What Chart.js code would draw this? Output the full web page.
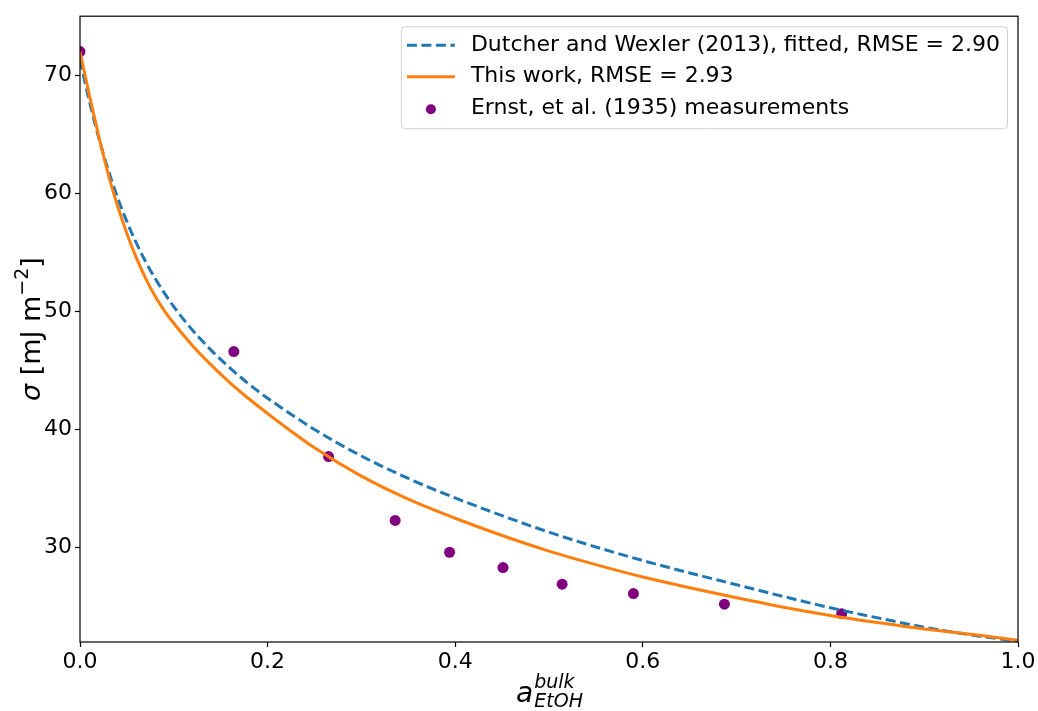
<!DOCTYPE html>
<html>
<head>
<meta charset="utf-8">
<script src="https://cdn.jsdelivr.net/npm/chart.js@4"></script>
<style>
	html, body { margin: 0; padding: 0; background: #fff; }
	#wrap { width: 1038px; height: 711px; position: relative; }
</style>
</head>
<body>
<div id="wrap"><canvas id="chart"></canvas></div>
<script>
// activity grid used for both model curves
const activity = [0, 0.01, 0.02, 0.03, 0.04, 0.05, 0.06, 0.07, 0.08, 0.09, 0.1, 0.12, 0.14, 0.16, 0.18, 0.2, 0.25, 0.3,
	0.35, 0.4, 0.45, 0.5, 0.55, 0.6, 0.65, 0.7, 0.75, 0.8, 0.85, 0.9, 0.95, 1.0];
// Dutcher and Wexler (2013), fitted
const dutcherSigma = [71.3, 67.8, 64.7, 62.0, 59.65, 57.6, 55.8, 54.2, 52.8, 51.55, 50.4, 48.4, 46.7, 45.2, 43.85, 42.65,
	40.0, 37.75, 35.85, 34.2, 32.7, 31.3, 30.05, 28.9, 27.85, 26.85, 25.85, 24.9, 24.05, 23.25, 22.6, 22.05];
// This work
const thisWorkSigma = [72.0, 68.3, 64.85, 61.65, 58.95, 56.6, 54.55, 52.8, 51.3, 50.05, 49.0, 47.1, 45.45, 43.95, 42.6, 41.35,
	38.45, 36.05, 34.1, 32.48, 31.02, 29.7, 28.55, 27.5, 26.6, 25.75, 24.95, 24.25, 23.65, 23.1, 22.65, 22.15];
// Ernst, et al. (1935) measurements
const ernstActivity = [0, 0.164, 0.265, 0.336, 0.394, 0.451, 0.514, 0.590, 0.687, 0.812];
const ernstSigma = [72.0, 46.6, 37.7, 32.3, 29.6, 28.3, 26.9, 26.1, 25.2, 24.4];

const xTicks = [0, 0.2, 0.4, 0.6, 0.8, 1.0];
const yTicks = [30, 40, 50, 60, 70];

const FONT = 'DejaVu Sans';

let toPoints = (xs, ys) => xs.map((x, i) => ({ x, y: ys[i] }));

// frame around the plot area
let frameBox = {
	id: 'frameBox',
	afterDraw (chart) {
		let { ctx, chartArea: a } = chart;
		ctx.save();
		ctx.strokeStyle = '#000';
		ctx.lineWidth = 1.2;
		ctx.strokeRect(a.left, a.top, a.right - a.left, a.bottom - a.top);
		ctx.restore();
	},
};

// axis titles with super/subscripts (mathtext-like)
let axisTitles = {
	id: 'axisTitles',
	afterDraw (chart) {
		let { ctx, chartArea: a } = chart;
		ctx.save();
		ctx.fillStyle = '#000';
		ctx.textBaseline = 'alphabetic';

		// x title: a^bulk_EtOH
		let cx = (a.left + a.right) / 2;
		ctx.font = `italic 28px ${FONT}`;
		let aW = ctx.measureText('a').width;
		ctx.font = `italic 19px ${FONT}`;
		let supW = ctx.measureText('bulk').width;
		let subW = ctx.measureText('EtOH').width;
		let total = aW + Math.max(supW, subW);
		let x0 = cx - total / 2;
		ctx.font = `italic 28px ${FONT}`;
		ctx.fillText('a', x0, 702);
		ctx.font = `italic 19px ${FONT}`;
		ctx.fillText('bulk', x0 + aW + 1, 688);
		ctx.fillText('EtOH', x0 + aW + 1, 707);

		// y title: σ [mJ m^-2]
		let cy = (a.top + a.bottom) / 2;
		ctx.translate(40, cy);
		ctx.rotate(-Math.PI / 2);
		ctx.font = `italic 27px ${FONT}`;
		let sW = ctx.measureText('σ').width;
		ctx.font = `27px ${FONT}`;
		let mid = ' [mJ m';
		let midW = ctx.measureText(mid).width;
		let brW = ctx.measureText(']').width;
		ctx.font = `19px ${FONT}`;
		let expW = ctx.measureText('\u22122').width;
		let w = sW + midW + expW + brW;
		let px = -w / 2;
		ctx.font = `italic 27px ${FONT}`;
		ctx.fillText('σ', px, 0);
		px += sW;
		ctx.font = `27px ${FONT}`;
		ctx.fillText(mid, px, 0);
		px += midW;
		ctx.font = `19px ${FONT}`;
		ctx.fillText('\u22122', px, -12);
		px += expW;
		ctx.font = `27px ${FONT}`;
		ctx.fillText(']', px, 0);
		ctx.restore();
	},
};

// matplotlib-like legend inside upper right corner
let innerLegend = {
	id: 'innerLegend',
	afterDraw (chart) {
		let { ctx, chartArea: a } = chart;
		let sets = chart.data.datasets;
		ctx.save();
		ctx.font = `22px ${FONT}`;
		let textW = Math.max(...sets.map(d => ctx.measureText(d.label).width));
		let boxW = 70 + textW + 7;
		let boxH = 102;
		let bx = a.right - 11 - boxW;
		let by = a.top + 10;
		ctx.fillStyle = 'rgba(255,255,255,0.8)';
		ctx.strokeStyle = '#d0d0d0';
		ctx.lineWidth = 1;
		ctx.beginPath();
		ctx.roundRect(bx + 0.5, by + 0.5, boxW, boxH, 4);
		ctx.fill();
		ctx.stroke();

		sets.forEach((d, i) => {
			let y = by + 19 + i * 31.5;
			let lx = bx + 6;
			if (d.showLine) {
				ctx.strokeStyle = d.borderColor;
				ctx.lineWidth = d.borderWidth;
				ctx.setLineDash(d.borderDash || []);
				ctx.beginPath();
				ctx.moveTo(lx, y);
				ctx.lineTo(lx + 48, y);
				ctx.stroke();
				ctx.setLineDash([]);
			} else {
				ctx.fillStyle = d.backgroundColor;
				ctx.beginPath();
				ctx.arc(lx + 24, y + 1, 5, 0, Math.PI * 2);
				ctx.fill();
			}
			ctx.fillStyle = '#000';
			ctx.textBaseline = 'middle';
			ctx.fillText(d.label, lx + 64, y);
		});
		ctx.restore();
	},
};

let tickFont = { family: FONT, size: 22 };

new Chart(document.getElementById('chart'), {
	type: 'scatter',
	data: {
		datasets: [
			{
				label: 'Dutcher and Wexler (2013), fitted, RMSE = 2.90',
				data: toPoints(activity, dutcherSigma),
				showLine: true,
				borderColor: '#1f77b4',
				backgroundColor: '#1f77b4',
				borderWidth: 3,
				borderDash: [10, 4.5],
				pointRadius: 0,
				cubicInterpolationMode: 'monotone',
				order: 1,
			},
			{
				label: 'This work, RMSE = 2.93',
				data: toPoints(activity, thisWorkSigma),
				showLine: true,
				borderColor: '#ff7f0e',
				backgroundColor: '#ff7f0e',
				borderWidth: 3,
				pointRadius: 0,
				cubicInterpolationMode: 'monotone',
				order: 0,
			},
			{
				label: 'Ernst, et al. (1935) measurements',
				data: toPoints(ernstActivity, ernstSigma),
				showLine: false,
				backgroundColor: '#800080',
				borderColor: '#800080',
				pointRadius: 5.5,
				pointBorderWidth: 0,
				order: 2,
			},
		],
	},
	options: {
		responsive: true,
		maintainAspectRatio: false,
		animation: false,
		layout: { padding: { top: 12, right: 20, left: 0, bottom: 0 } },
		plugins: {
			legend: { display: false },
			tooltip: { enabled: false },
		},
		scales: {
			x: {
				type: 'linear',
				min: 0,
				max: 1,
				afterBuildTicks: (s) => { s.ticks = xTicks.map(v => ({ value: v })); },
				afterFit: (s) => { s.height = 69; },
				grid: { drawOnChartArea: false, tickLength: 5, tickColor: '#000', tickWidth: 1.2 },
				border: { display: false },
				ticks: {
					color: '#000',
					font: tickFont,
					padding: 2,
					maxRotation: 0,
					callback: v => v.toFixed(1),
				},
			},
			y: {
				type: 'linear',
				min: 22,
				max: 75,
				afterBuildTicks: (s) => { s.ticks = yTicks.map(v => ({ value: v })); },
				afterFit: (s) => { s.width = 80; },
				grid: { drawOnChartArea: false, tickLength: 5, tickColor: '#000', tickWidth: 1.2 },
				border: { display: false },
				ticks: {
					color: '#000',
					font: tickFont,
					padding: 3,
				},
			},
		},
	},
	plugins: [frameBox, axisTitles, innerLegend],
});
</script>
</body>
</html>
